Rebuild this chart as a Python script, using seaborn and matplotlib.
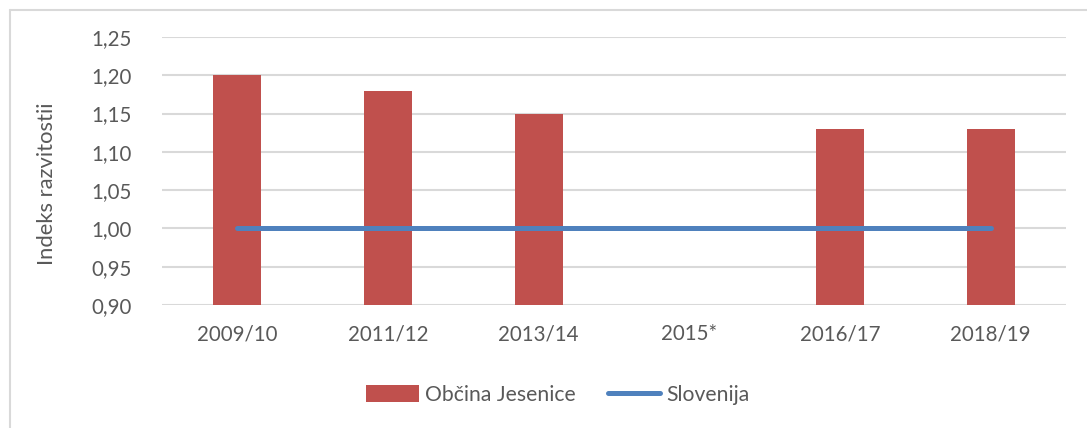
import matplotlib
matplotlib.use("Agg")
import matplotlib.pyplot as plt
from matplotlib.lines import Line2D
from matplotlib.patches import Patch
from matplotlib.ticker import FuncFormatter
import seaborn as sns
import pandas as pd
import numpy as np

categories = ["2009/10", "2011/12", "2013/14", "2015*", "2016/17", "2018/19"]
jesenice = [1.20, 1.18, 1.15, np.nan, 1.13, 1.13]
slovenija = [1.00, 1.00, 1.00, 1.00, 1.00, 1.00]
yticks = [0.90, 0.95, 1.00, 1.05, 1.10, 1.15, 1.20, 1.25]

sns.set_theme(style="white")
plt.rcParams['font.family'] = ['Lato', 'DejaVu Sans']

RED = "#C0504D"
BLUE = "#4F81BD"
TXT = "#595959"
GRID = "#D9D9D9"

fig = plt.figure(figsize=(10.87, 4.28), dpi=100)
ax = fig.add_axes([162/1087, 1-305/428, (1066-162)/1087, (305-37)/428])

df = pd.DataFrame({"cat": categories, "Občina Jesenice": jesenice, "Slovenija": slovenija})

sns.barplot(data=df, x="cat", y="Občina Jesenice", color=RED, width=0.32,
            saturation=1, ax=ax, zorder=2, linewidth=0, edgecolor=RED)
ax.plot(np.arange(len(categories)), df["Slovenija"], color=BLUE, lw=3.6,
        solid_capstyle="round", zorder=3)

ax.set_ylim(0.90, 1.25)
ax.set_xlim(-0.5, len(categories) - 0.5)
ax.set_yticks(yticks)
ax.yaxis.set_major_formatter(FuncFormatter(lambda v, p: f"{v:.2f}".replace(".", ",")))
ax.grid(axis="y", color=GRID, lw=1.5, zorder=0)
ax.set_axisbelow(True)
for s in ax.spines.values():
    s.set_visible(False)
ax.tick_params(axis="both", length=0, labelsize=14.8, labelcolor=TXT)
ax.tick_params(axis="y", pad=22)
ax.tick_params(axis="x", pad=14)
ax.set_xlabel("")
ax.set_ylabel("")
fig.text(47/1087, 1-184/428, "Indeks razvitostii", rotation=90, ha="center", va="center",
         fontsize=15.8, color=TXT)

handles = [Patch(facecolor=RED, edgecolor="none"),
           Line2D([0], [0], color=BLUE, lw=3.6, solid_capstyle="round")]
fig.legend(handles, ["Občina Jesenice", "Slovenija"], loc="center",
           bbox_to_anchor=(558/1087, 1-395/428), ncol=2, frameon=False,
           fontsize=15.2, labelcolor=TXT, handlelength=2.5, handleheight=0.85,
           handletextpad=0.3, columnspacing=1.5)

fig.add_artist(Line2D([10/1087, 10/1087], [0, 1-10/428], color=GRID, lw=1.5,
                      transform=fig.transFigure))
fig.add_artist(Line2D([10/1087, 1], [1-10/428, 1-10/428], color=GRID, lw=1.5,
                      transform=fig.transFigure))

fig.savefig("out.png", dpi=100)
